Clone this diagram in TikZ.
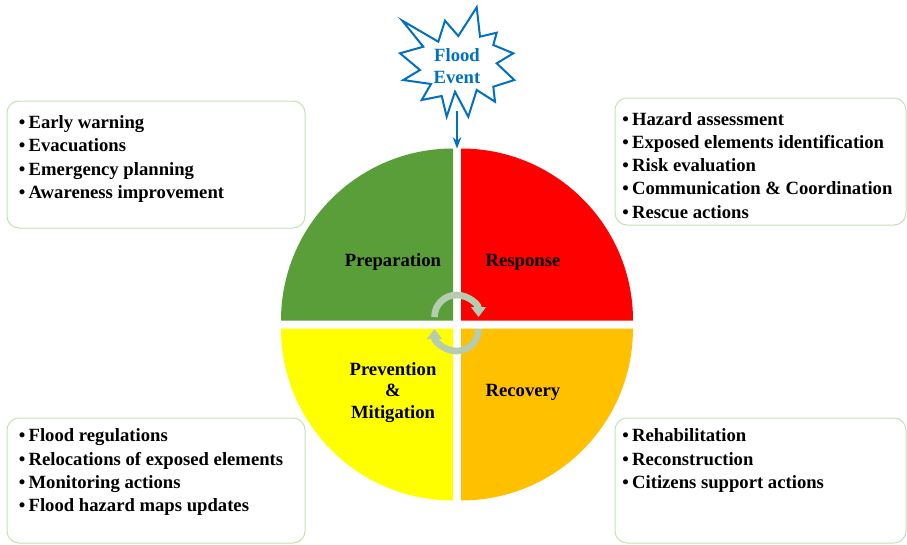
\documentclass[tikz,border=0pt]{standalone}
\usepackage{fontspec}
\setmainfont{Liberation Serif}
\usetikzlibrary{arrows.meta, calc, fit}

\definecolor{prepgreen}{RGB}{90,158,58}
\definecolor{respred}{RGB}{255,0,0}
\definecolor{recorange}{RGB}{255,192,0}
\definecolor{prevyellow}{RGB}{255,255,0}
\definecolor{eventblue}{RGB}{0,112,192}
\definecolor{boxgreen}{RGB}{197,224,180}
\definecolor{cyclegray}{RGB}{181,204,177}

\begin{document}
\begin{tikzpicture}[x=0.75pt, y=0.75pt, >=Stealth,
  infobox/.style={draw=boxgreen, line width=0.75pt, rounded corners=9pt, inner sep=0pt},
  item/.style={anchor=base west, inner sep=0pt, font=\fontsize{14}{16}\selectfont\bfseries},
  phase/.style={align=center, inner sep=0pt, font=\fontsize{14}{16}\selectfont\bfseries},
  cyclearrow/.style={draw=cyclegray, line width=5pt, -{Triangle[width=11pt, length=7.5pt]}},
  eventtext/.style={align=center, text=eventblue, font=\fontsize{14}{17}\selectfont\bfseries}]

  % --- MOLDURA ---
  \useasboundingbox (0,0) rectangle (907,-544);

  % --- CÍRCULO CENTRAL (4 quadrantes) ---
  \def\cx{457}
  \def\cy{-324.5}
  \def\gap{4}
  \def\rad{172}

  % Quadrante superior esquerdo (Preparation)
  \fill[prepgreen] (\cx-\gap, \cy+\gap) -- ++(-\rad, 0) arc[start angle=180, end angle=90, radius=\rad] -- cycle;
  % Quadrante superior direito (Response)
  \fill[respred] (\cx+\gap, \cy+\gap) -- ++(0, \rad) arc[start angle=90, end angle=0, radius=\rad] -- cycle;
  % Quadrante inferior esquerdo (Prevention)
  \fill[prevyellow] (\cx-\gap, \cy-\gap) -- ++(0, -\rad) arc[start angle=270, end angle=180, radius=\rad] -- cycle;
  % Quadrante inferior direito (Recovery)
  \fill[recorange] (\cx+\gap, \cy-\gap) -- ++(\rad, 0) arc[start angle=0, end angle=-90, radius=\rad] -- cycle;

  % Rótulos das fases
  \node[phase] (prep) at (393, -262) {Preparation};
  \node[phase] (resp) at (523, -262) {Response};
  \node[phase] (prev) at (393, -392.5) {Prevention\\\&\\Mitigation};
  \node[phase] (reco) at (523, -392) {Recovery};

  % Setas circulares no centro (sentido horário)
  \draw[cyclearrow] (434.5, -317) arc[start angle=180, end angle=0, radius=22];
  \draw[cyclearrow] (478.5, -329) arc[start angle=0, end angle=-180, radius=22];

  % --- EVENTO (estrela) ---
  \draw[eventblue, line width=1.5pt, fill=white, line join=miter]
    (402.3,-20.7) -- (438.3,-41.7) -- (445,-20.7) -- (458.3,-36) -- (476.7,-7.3)
    -- (480,-36.7) -- (496.7,-32.7) -- (493.3,-45) -- (513.3,-53.3) -- (496.7,-63.3)
    -- (514.3,-80) -- (493.3,-86.7) -- (495,-101.7) -- (476.7,-90) -- (468.3,-116.7)
    -- (455,-91.7) -- (446.7,-116.7) -- (441.7,-96) -- (421.7,-100) -- (431,-84)
    -- (403.3,-80) -- (420,-70) -- (400,-53.3) -- (423.3,-46.7) -- cycle;
  \node[eventtext] (flood) at (457, -66) {Flood\\Event};

  % Seta do evento até o círculo
  \coordinate (floodfoot) at (457, -111);
  \coordinate (cycletop) at (457, -148.5);
  \draw[->, eventblue, line width=1.2pt] (floodfoot) -- (cycletop);

  % --- CAIXAS DE AÇÕES ---
  \node[infobox, fit={(7,-101) (305,-228)}] (prepbox) {};
  \node[infobox, fit={(615,-98) (906,-225)}] (respbox) {};
  \node[infobox, fit={(7,-418) (305,-543)}] (prevbox) {};
  \node[infobox, fit={(615,-418) (906,-543)}] (recobox) {};

  % Itens de cada caixa
  \foreach \txt [count=\i from 0] in {Early warning, Evacuations, Emergency planning, Awareness improvement}
    \node[item] (prep\i) at (18.5, {-128.3-\i*23.4}) {\textbullet\hspace{2.5pt}\txt};

  \foreach \txt [count=\i from 0] in {Hazard assessment, Exposed elements identification, Risk evaluation, Communication \& Coordination, Rescue actions}
    \node[item] (resp\i) at (622, {-125-\i*23.3}) {\textbullet\hspace{2.5pt}\txt};

  \foreach \txt [count=\i from 0] in {Flood regulations, Relocations of exposed elements, Monitoring actions, Flood hazard maps updates}
    \node[item] (prev\i) at (18.5, {-441.7-\i*23.3}) {\textbullet\hspace{2.5pt}\txt};

  \foreach \txt [count=\i from 0] in {Rehabilitation, Reconstruction, Citizens support actions}
    \node[item] (reco\i) at (622, {-441.7-\i*23.3}) {\textbullet\hspace{2.5pt}\txt};

\end{tikzpicture}
\end{document}
